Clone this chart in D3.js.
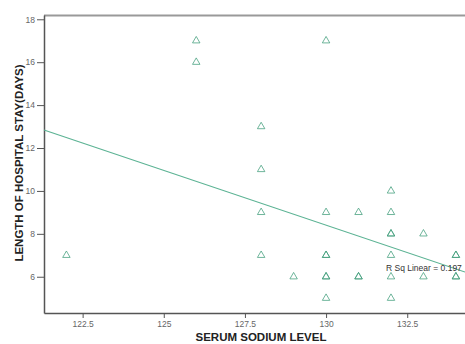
<!DOCTYPE html>
<html>
<head>
<meta charset="utf-8">
<script src="https://cdn.jsdelivr.net/npm/d3@7"></script>
<style>
  body { margin: 0; background: #fff; }
  svg { display: block; font-family: "Liberation Sans", Arial, sans-serif; }
</style>
</head>
<body>
<div class="container"></div>
<script>
// serum sodium vs length of stay, one entry per patient (repeats drawn on top of each other)
var sodium = [122, 126, 126, 128, 128, 128, 128, 129,
              130, 130, 130, 130, 130, 130, 130,
              131, 131, 131,
              132, 132, 132, 132, 132, 132, 132,
              133, 133, 134, 134, 134, 134];
var stay = [7, 17, 16, 13, 11, 9, 7, 6,
            17, 9, 7, 7, 6, 6, 5,
            9, 6, 6,
            10, 9, 8, 8, 7, 6, 5,
            8, 6, 7, 7, 6, 6];

var xTicks = [122.5, 125, 127.5, 130, 132.5];
var yTicks = [6, 8, 10, 12, 14, 16, 18];

// fit line ends
var fitX = [121.31, 134.28];
var fitY = [12.84, 6.22];
var rsqLabel = "R Sq Linear = 0.197";

var width = 465, height = 344;
var plotLeft = 44, plotRight = 465, plotTop = 15, plotBottom = 313;

var x = d3.scaleLinear().domain([121.31, 134.28]).range([plotLeft, plotRight]);
var y = d3.scaleLinear().domain([4.31, 18.2]).range([plotBottom, plotTop]);

var svg = d3.select('.container').append('svg')
    .attr('width', width)
    .attr('height', height);

// top frame line
svg.append('line')
    .attr('x1', plotLeft).attr('x2', plotRight)
    .attr('y1', plotTop + 0.5).attr('y2', plotTop + 0.5)
    .attr('stroke', '#999')
    .attr('stroke-width', 2);

var fmt = function (d) { return d % 1 ? d.toFixed(1) : String(d); };

var xAxis = d3.axisBottom(x).tickValues(xTicks).tickFormat(fmt)
    .tickSizeInner(5).tickSizeOuter(0).tickPadding(3);
var yAxis = d3.axisLeft(y).tickValues(yTicks).tickFormat(fmt)
    .tickSizeInner(7).tickSizeOuter(0).tickPadding(2);

var gx = svg.append('g')
    .attr('transform', 'translate(0,' + plotBottom + ')')
    .call(xAxis);
var gy = svg.append('g')
    .attr('transform', 'translate(' + plotLeft + ',0)')
    .call(yAxis);

[gx, gy].forEach(function (g) {
    g.select('.domain').attr('stroke', '#555').attr('stroke-width', 1.5);
    g.selectAll('.tick line').attr('stroke', '#555');
    g.selectAll('.tick text')
        .attr('fill', '#666')
        .style('font-size', '8.5px')
        .style('font-family', '"Liberation Sans", Arial, sans-serif');
});

// regression line
svg.append('path')
    .datum(d3.zip(fitX, fitY))
    .attr('fill', 'none')
    .attr('stroke', '#5cb394')
    .attr('stroke-width', 1.2)
    .attr('d', d3.line().x(function (d) { return x(d[0]); }).y(function (d) { return y(d[1]); }));

// points
var tri = d3.symbol().type(d3.symbolTriangle).size(24);
svg.selectAll('path.pt')
    .data(d3.zip(sodium, stay))
    .enter()
    .append('path')
    .attr('class', 'pt')
    .attr('transform', function (d) { return 'translate(' + x(d[0]) + ',' + y(d[1]) + ')'; })
    .attr('d', tri)
    .attr('fill', 'none')
    .attr('stroke', '#3f9c7a')
    .attr('stroke-opacity', 0.75)
    .attr('stroke-width', 1);

svg.append('text')
    .attr('x', 386)
    .attr('y', 271)
    .attr('fill', '#333')
    .style('font-size', '8.5px')
    .text(rsqLabel);

svg.append('text')
    .attr('x', 261)
    .attr('y', 341)
    .attr('text-anchor', 'middle')
    .attr('fill', '#222')
    .style('font-size', '11.5px')
    .style('font-weight', 'bold')
    .text('SERUM SODIUM LEVEL');

svg.append('text')
    .attr('transform', 'translate(23,163) rotate(-90)')
    .attr('text-anchor', 'middle')
    .attr('fill', '#222')
    .style('font-size', '11.5px')
    .style('font-weight', 'bold')
    .text('LENGTH OF HOSPITAL STAY(DAYS)');
</script>
</body>
</html>
